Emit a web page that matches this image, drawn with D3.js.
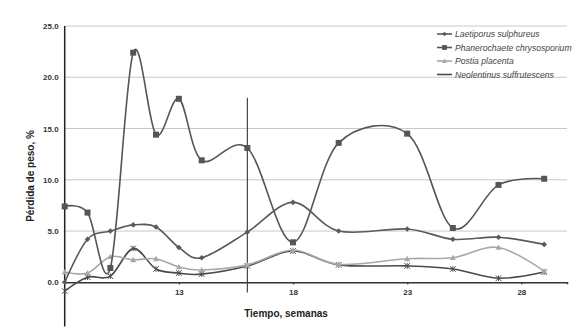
<!DOCTYPE html>
<html><head><meta charset="utf-8">
<script src="https://cdn.jsdelivr.net/npm/d3@7/dist/d3.min.js"></script>
<style>body{margin:0;background:#fff}svg{display:block}</style>
</head><body><svg id="c" width="580" height="334"></svg>
<script>
const weeks = [8,9,10,11,12,13,14,16,18,20,23,25,27,29];
const laetiporus = [0.0,4.2,5.0,5.6,5.4,3.4,2.4,4.9,7.8,5.0,5.2,4.2,4.4,3.7];
const phanerochaete = [7.4,6.8,1.4,22.4,14.4,17.9,11.9,13.1,3.9,13.6,14.5,5.3,9.5,10.1];
const postia = [1.0,0.9,2.5,2.2,2.3,1.5,1.2,1.7,3.15,1.75,2.3,2.4,3.4,1.1];
const neolentinus = [-0.85,0.5,0.6,3.3,1.3,0.9,0.8,1.6,3.05,1.7,1.6,1.3,0.4,1.0];
const seriesNames = ["Laetiporus sulphureus","Phanerochaete chrysosporium","Postia placenta","Neolentinus suffrutescens"];
const yTicks = [0,5,10,15,20,25];
const xTicks = [13,18,23,28];
const markerLine = {week:16, from:-1, to:18};

const svg = d3.select("#c");
const x = d3.scaleLinear().domain([8,30]).range([64.7,567]);
const y = d3.scaleLinear().domain([-4.3,25]).range([326.4,26]);

svg.append("g").selectAll("line").data(yTicks.filter(d=>d>0)).join("line")
  .attr("x1",x(8)).attr("x2",x(30)).attr("y1",d=>y(d)).attr("y2",d=>y(d))
  .attr("stroke","#c8c8c8").attr("stroke-width",1);

const yAxis = d3.axisLeft(y).tickValues(yTicks).tickFormat(d3.format(".1f")).tickSize(0).tickPadding(6);
const gy = svg.append("g").attr("transform",`translate(${x(8)},0)`).call(yAxis);
gy.select(".domain").remove();
gy.selectAll("text").attr("font-family","Liberation Sans, Arial, sans-serif").attr("font-size",8).attr("font-weight","bold").attr("fill","#333");
svg.append("line").attr("x1",x(8)).attr("x2",x(8)).attr("y1",y(25)).attr("y2",y(-4.3)).attr("stroke","#222").attr("stroke-width",1.5);

const xAxis = d3.axisBottom(x).tickValues(xTicks).tickSize(2).tickPadding(5).tickFormat(d3.format("d"));
const gx = svg.append("g").attr("transform",`translate(0,${y(0)})`).call(xAxis);
gx.select(".domain").attr("stroke","#333").attr("stroke-width",1.5);
gx.selectAll(".tick line").attr("stroke","#333").attr("stroke-width",1.5);
gx.selectAll("text").attr("font-family","Liberation Sans, Arial, sans-serif").attr("font-size",8).attr("font-weight","bold").attr("fill","#333");

svg.append("line").attr("x1",x(markerLine.week)).attr("x2",x(markerLine.week))
  .attr("y1",y(markerLine.to)).attr("y2",y(markerLine.from)).attr("stroke","#444").attr("stroke-width",1.2);

const series = [
  {name:seriesNames[0], vals:laetiporus, color:"#5a5a5a", marker:"diamond"},
  {name:seriesNames[1], vals:phanerochaete, color:"#555", marker:"square"},
  {name:seriesNames[2], vals:postia, color:"#a8a8a8", marker:"triangle"},
  {name:seriesNames[3], vals:neolentinus, color:"#4a4a4a", marker:"star"}
];
const line = d3.line().x(d=>x(d[0])).y(d=>y(d[1])).curve(d3.curveCardinal.tension(0));

function drawMarker(g, type, cx, cy, color, s){
  if(type==="diamond"){
    g.append("path").attr("d",`M${cx},${cy-s}L${cx+s},${cy}L${cx},${cy+s}L${cx-s},${cy}Z`).attr("fill",color);
  } else if(type==="square"){
    g.append("rect").attr("x",cx-s).attr("y",cy-s).attr("width",2*s).attr("height",2*s).attr("fill",color);
  } else if(type==="triangle"){
    g.append("path").attr("d",`M${cx},${cy-s}L${cx+s},${cy+s*0.8}L${cx-s},${cy+s*0.8}Z`).attr("fill",color);
  } else {
    g.append("path").attr("d",`M${cx-s},${cy-s}L${cx+s},${cy+s}M${cx-s},${cy+s}L${cx+s},${cy-s}M${cx},${cy-s}L${cx},${cy+s}`)
      .attr("stroke",color).attr("stroke-width",1).attr("fill","none");
  }
}
const sizes = {diamond:2.8, square:3, triangle:3, star:2.8};

series.slice().reverse().forEach(s=>{
  const pts = weeks.map((w,i)=>[w,s.vals[i]]);
  svg.append("path").attr("d",line(pts)).attr("fill","none").attr("stroke",s.color).attr("stroke-width",1.6);
  const g = svg.append("g");
  pts.forEach(p=>drawMarker(g,s.marker,x(p[0]),y(p[1]),s.color,sizes[s.marker]));
});

const lg = svg.append("g");
series.forEach((s,i)=>{
  const ly = 34 + i*13.5;
  lg.append("line").attr("x1",437).attr("x2",452).attr("y1",ly).attr("y2",ly).attr("stroke",s.color).attr("stroke-width",1.6);
  if(s.marker!=="star") drawMarker(lg,s.marker,444.5,ly,s.color,sizes[s.marker]*0.8);
  lg.append("text").attr("x",455).attr("y",ly+3).text(s.name)
    .attr("font-family","Liberation Sans, Arial, sans-serif").attr("font-size",8.6).attr("font-style","italic").attr("fill","#444");
});

svg.append("text").attr("transform",`translate(34,176) rotate(-90)`).attr("text-anchor","middle")
  .attr("font-family","Liberation Sans, Arial, sans-serif").attr("font-size",10).attr("font-weight","bold").attr("fill","#222")
  .text("Pérdida de peso, %");
svg.append("text").attr("x",286).attr("y",317).attr("text-anchor","middle")
  .attr("font-family","Liberation Sans, Arial, sans-serif").attr("font-size",10).attr("font-weight","bold").attr("fill","#222")
  .text("Tiempo, semanas");
</script></body></html>
